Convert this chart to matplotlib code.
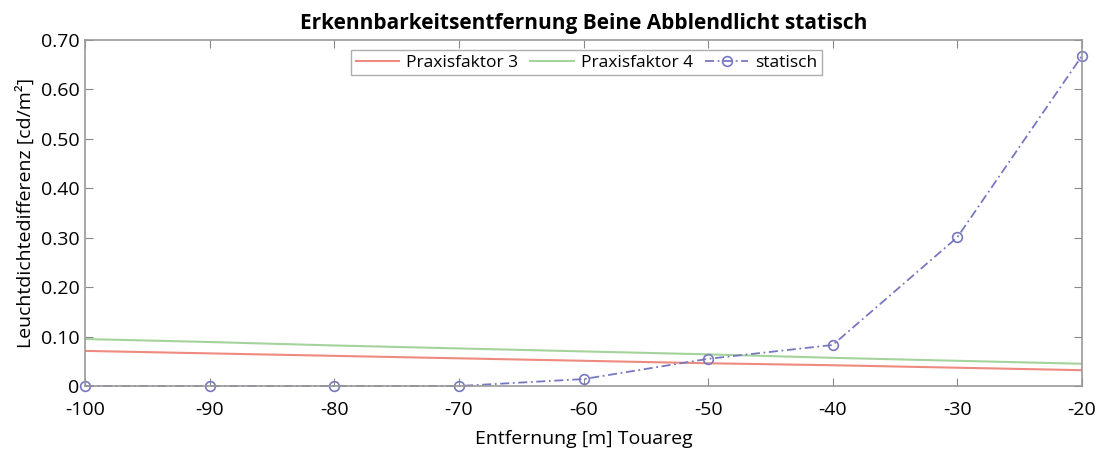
import matplotlib
matplotlib.use("Agg")
import matplotlib.pyplot as plt

plt.rcParams['font.family'] = ['Open Sans', 'DejaVu Sans']

x = [-100, -90, -80, -70, -60, -50, -40, -30, -20]
praxis3 = [0.071, 0.066, 0.061, 0.056, 0.051, 0.046, 0.042, 0.037, 0.032]
praxis4 = [0.095, 0.089, 0.082, 0.076, 0.070, 0.064, 0.057, 0.051, 0.045]
statisch = [0.0, 0.0, 0.0, 0.0, 0.014, 0.055, 0.083, 0.301, 0.668]
yticks = [0, 0.10, 0.20, 0.30, 0.40, 0.50, 0.60, 0.70]
ytick_labels = ["0", "0.10", "0.20", "0.30", "0.40", "0.50", "0.60", "0.70"]

fig = plt.figure(figsize=(11.04, 4.54), dpi=100)
ax = fig.add_axes([85/1104, 1 - 386/454, (1082-85)/1104, (386-40)/454])

ax.plot(x, praxis3, color='#ee8a80', lw=1.5, label='Praxisfaktor 3')
ax.plot(x, praxis4, color='#a5d39c', lw=1.5, label='Praxisfaktor 4')
ax.plot(x, statisch, color='#7878c0', lw=1.3, ls=(0, (5, 2, 1, 2)), marker='o', ms=7,
        mfc='none', mec='#7878c0', mew=1.2, label='statisch', clip_on=False)

ax.set_xlim(-100, -20)
ax.set_ylim(0, 0.70)
ax.set_xticks(x)
ax.set_xticklabels([str(v) for v in x])
ax.set_yticks(yticks)
ax.set_yticklabels(ytick_labels)
ax.tick_params(direction='in', top=True, right=True, labelsize=14, length=6,
               color='#888888')
ax.tick_params(axis='x', pad=11)
ax.tick_params(axis='y', pad=4)
for s in ax.spines.values():
    s.set_color('#999999')
    s.set_linewidth(1.2)

ax.set_xlabel('Entfernung [m] Touareg', fontsize=14, labelpad=8)
ax.set_ylabel('Leuchtdichtedifferenz [cd/m²]', fontsize=14, labelpad=4)
ax.set_title('Erkennbarkeitsentfernung Beine Abblendlicht statisch',
             fontsize=15, fontweight='bold', pad=8)

leg = ax.legend(loc='upper center', ncol=3, fontsize=12.5, frameon=True,
                fancybox=False, edgecolor='#999999', borderaxespad=0.4,
                handlelength=2.5, columnspacing=0.7, handletextpad=0.4,
                borderpad=0.25, bbox_to_anchor=(0.503, 0.99))
leg.get_frame().set_linewidth(1.0)

fig.savefig('out.png', dpi=100)
